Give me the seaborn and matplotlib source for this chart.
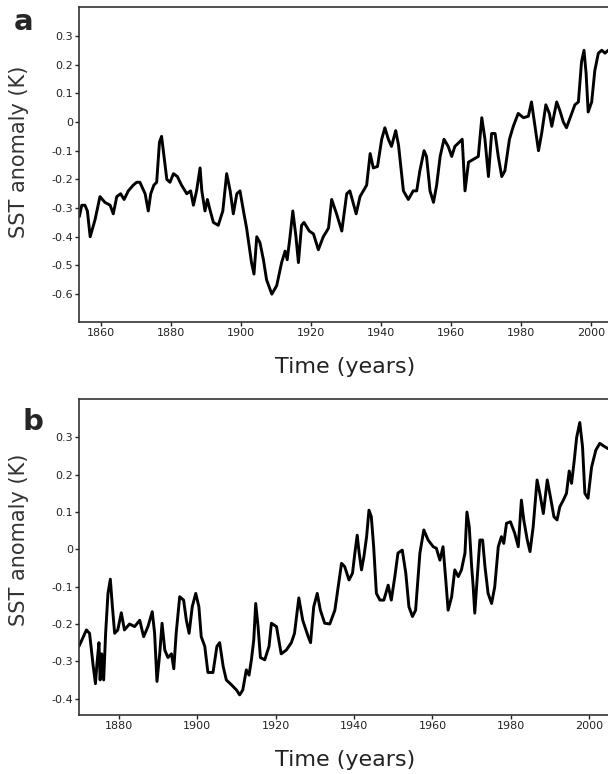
import numpy as np
import pandas as pd
import seaborn as sns
import matplotlib
matplotlib.use("Agg")
import matplotlib.pyplot as plt

# panel a: SST anomaly (K)
years_a = [1853.8, 1854.5, 1855.4, 1856.1, 1856.9, 1858.3, 1859.7, 1861.1, 1862.6, 1863.5,
           1864.5, 1865.6, 1866.6, 1867.8, 1869.2, 1870.2, 1871.1, 1872.6, 1873.5, 1874.2,
           1875.1, 1875.9, 1876.7, 1877.3, 1878.0, 1878.8, 1879.7, 1880.7, 1881.8, 1883.0,
           1884.5, 1885.6, 1886.4, 1887.3, 1888.3, 1888.8, 1889.7, 1890.4, 1891.0, 1892.1,
           1893.5, 1894.8, 1895.9, 1896.9, 1897.8, 1898.8, 1899.7, 1900.7, 1901.6, 1903.0,
           1903.7, 1904.5, 1905.4, 1906.4, 1907.3, 1908.8, 1910.2, 1911.6, 1912.6, 1913.2,
           1914.0, 1914.8, 1915.7, 1916.4, 1917.3, 1918.0, 1919.5, 1920.7, 1922.1, 1923.5,
           1925.0, 1925.9, 1927.3, 1928.8, 1930.2, 1931.1, 1932.9, 1934.0, 1935.9, 1936.9,
           1937.8, 1939.0, 1940.2, 1941.1, 1942.1, 1943.0, 1944.2, 1945.0, 1946.4, 1947.8,
           1949.2, 1950.2, 1951.1, 1952.3, 1953.0, 1954.0, 1955.0, 1955.9, 1956.9, 1958.0,
           1959.2, 1960.2, 1961.1, 1962.4, 1963.2, 1964.0, 1965.0, 1966.4, 1967.8, 1968.8,
           1969.7, 1970.7, 1971.6, 1972.6, 1973.5, 1974.5, 1975.4, 1976.7, 1977.8, 1979.2,
           1980.7, 1982.1, 1983.0, 1984.0, 1985.0, 1985.9, 1987.1, 1988.1, 1988.8, 1990.2,
           1991.1, 1992.1, 1993.0, 1994.5, 1995.4, 1996.4, 1997.3, 1998.0, 1998.6, 1999.2,
           2000.2, 2001.1, 2002.1, 2003.1, 2004.0, 2004.9]
sst_a = [-0.33, -0.29, -0.29, -0.31, -0.40, -0.34, -0.26, -0.28, -0.29, -0.32,
         -0.26, -0.25, -0.27, -0.24, -0.22, -0.21, -0.21, -0.25, -0.31, -0.25,
         -0.22, -0.21, -0.07, -0.05, -0.12, -0.20, -0.21, -0.18, -0.19, -0.22,
         -0.25, -0.24, -0.29, -0.24, -0.16, -0.24, -0.31, -0.27, -0.30, -0.35,
         -0.36, -0.31, -0.18, -0.24, -0.32, -0.25, -0.24, -0.31, -0.37, -0.49,
         -0.53, -0.40, -0.42, -0.48, -0.55, -0.60, -0.57, -0.49, -0.45, -0.48,
         -0.40, -0.31, -0.40, -0.49, -0.36, -0.35, -0.38, -0.39, -0.445, -0.40,
         -0.37, -0.27, -0.32, -0.38, -0.25, -0.24, -0.32, -0.26, -0.22, -0.11,
         -0.16, -0.155, -0.06, -0.02, -0.06, -0.085, -0.03, -0.08, -0.24, -0.27,
         -0.24, -0.24, -0.17, -0.10, -0.12, -0.24, -0.28, -0.22, -0.12, -0.06,
         -0.085, -0.12, -0.085, -0.07, -0.06, -0.24, -0.14, -0.13, -0.12, 0.015,
         -0.06, -0.19, -0.04, -0.04, -0.12, -0.19, -0.17, -0.06, -0.015, 0.03,
         0.015, 0.02, 0.07, -0.015, -0.10, -0.04, 0.06, 0.03, -0.015, 0.07,
         0.04, 0.00, -0.02, 0.03, 0.06, 0.07, 0.21, 0.25, 0.17, 0.035,
         0.07, 0.18, 0.24, 0.25, 0.24, 0.25]

# panel b
years_b = [1869.8, 1871.7, 1872.5, 1873.4, 1874.0, 1874.4, 1874.9, 1875.2, 1875.6, 1876.1,
           1876.6, 1877.2, 1877.8, 1878.3, 1878.9, 1879.7, 1880.6, 1881.4, 1882.7, 1884.0,
           1885.3, 1886.3, 1887.4, 1888.5, 1889.1, 1889.7, 1890.4, 1891.0, 1891.7, 1892.5,
           1893.4, 1894.0, 1894.6, 1895.5, 1896.5, 1897.2, 1897.9, 1898.7, 1899.6, 1900.4,
           1901.0, 1901.9, 1902.7, 1904.0, 1905.0, 1905.7, 1906.6, 1907.4, 1908.7, 1910.0,
           1910.8, 1911.6, 1912.5, 1913.2, 1913.8, 1914.4, 1914.9, 1915.5, 1916.1, 1917.2,
           1918.3, 1918.9, 1920.2, 1921.4, 1922.7, 1924.0, 1924.8, 1925.9, 1926.9, 1928.3,
           1928.9, 1929.7, 1930.6, 1931.4, 1932.5, 1933.8, 1935.1, 1936.2, 1936.8, 1937.6,
           1938.7, 1939.6, 1940.2, 1940.8, 1941.3, 1941.9, 1942.5, 1943.2, 1943.8, 1944.4,
           1945.0, 1945.7, 1946.6, 1947.6, 1948.7, 1949.5, 1950.4, 1951.2, 1952.3, 1953.2,
           1954.0, 1954.9, 1955.7, 1956.8, 1957.8, 1958.9, 1960.2, 1961.0, 1961.9, 1962.7,
           1963.4, 1964.0, 1964.9, 1965.7, 1966.6, 1967.4, 1968.3, 1968.8, 1969.4, 1970.0,
           1970.4, 1970.8, 1971.4, 1972.1, 1972.8, 1973.4, 1974.2, 1975.1, 1975.9, 1976.8,
           1977.6, 1978.2, 1978.9, 1979.9, 1981.0, 1981.9, 1982.7, 1983.3, 1984.2, 1984.9,
           1985.7, 1986.7, 1987.4, 1988.3, 1989.3, 1990.1, 1991.0, 1991.8, 1992.5, 1993.4,
           1994.2, 1994.9, 1995.5, 1996.1, 1996.8, 1997.6, 1998.3, 1998.9, 1999.7, 2000.6,
           2001.7, 2002.7, 2004.0, 2004.8]
sst_b = [-0.26, -0.216, -0.225, -0.31, -0.36, -0.305, -0.25, -0.35, -0.28, -0.35,
         -0.225, -0.118, -0.08, -0.15, -0.225, -0.216, -0.17, -0.216, -0.20, -0.207,
         -0.19, -0.234, -0.207, -0.167, -0.225, -0.354, -0.28, -0.198, -0.27, -0.29,
         -0.28, -0.32, -0.225, -0.127, -0.136, -0.19, -0.225, -0.154, -0.118, -0.154,
         -0.234, -0.26, -0.33, -0.33, -0.26, -0.25, -0.314, -0.35, -0.363, -0.377,
         -0.39, -0.377, -0.323, -0.337, -0.296, -0.243, -0.145, -0.207, -0.29, -0.296,
         -0.26, -0.198, -0.207, -0.28, -0.27, -0.25, -0.225, -0.13, -0.19, -0.234,
         -0.25, -0.154, -0.118, -0.163, -0.198, -0.20, -0.163, -0.082, -0.0375, -0.046,
         -0.082, -0.064, -0.01, 0.038, -0.01, -0.055, -0.02, 0.034, 0.105, 0.0875,
         0.007, -0.118, -0.136, -0.136, -0.096, -0.136, -0.073, -0.01, -0.002, -0.064,
         -0.154, -0.18, -0.163, -0.01, 0.052, 0.025, 0.007, 0.003, -0.029, 0.007,
         -0.082, -0.163, -0.127, -0.055, -0.073, -0.055, -0.01, 0.10, 0.06, -0.046,
         -0.10, -0.171, -0.082, 0.025, 0.025, -0.046, -0.118, -0.145, -0.10, 0.007,
         0.034, 0.016, 0.07, 0.074, 0.043, 0.007, 0.132, 0.079, 0.025, -0.006,
         0.06, 0.186, 0.15, 0.096, 0.186, 0.141, 0.0875, 0.079, 0.114, 0.132,
         0.15, 0.21, 0.177, 0.23, 0.30, 0.34, 0.275, 0.15, 0.137, 0.22,
         0.266, 0.284, 0.275, 0.27]

xticks_a = [1860, 1880, 1900, 1920, 1940, 1960, 1980, 2000]
xticks_b = [1880, 1900, 1920, 1940, 1960, 1980, 2000]
yticks_a = [-0.6, -0.5, -0.4, -0.3, -0.2, -0.1, 0.0, 0.1, 0.2, 0.3]
yticks_b = [-0.4, -0.3, -0.2, -0.1, 0.0, 0.1, 0.2, 0.3]

sns.set_style("ticks")
plt.rcParams['font.family'] = ['DejaVu Sans']


def tick_text(v):
    return "0" if abs(v) < 1e-9 else f"{v:.1f}"


def sst_panel(ax, years, sst, xticks, yticks, xlim, ylim, letter, letter_pos, ylab_y):
    df = pd.DataFrame({'year': years, 'sst': sst})
    sns.lineplot(data=df, x='year', y='sst', ax=ax, color='black', linewidth=2.1,
                 estimator=None, sort=False)
    ax.set_xticks(xticks)
    ax.set_xticklabels([str(x) for x in xticks])
    ax.set_yticks(yticks)
    ax.set_yticklabels([tick_text(v) for v in yticks])
    # limits after the ticks, set_ticks can widen the view
    ax.set_xlim(*xlim)
    ax.set_ylim(*ylim)
    ax.tick_params(axis='both', direction='out', length=2.8, width=1.0, pad=1.5,
                   labelsize=8, colors='#222222')
    for side in ['left', 'bottom', 'top']:
        ax.spines[side].set_visible(True)
        ax.spines[side].set_linewidth(1.2)
        ax.spines[side].set_color('#333333')
    ax.spines['right'].set_visible(False)
    ax.set_xlabel('Time (years)', fontsize=16, color='#222222')
    ax.set_ylabel('SST anomaly (K)', fontsize=15, color='#333333')
    ax.xaxis.set_label_coords(0.503, -0.111)
    ax.yaxis.set_label_coords(-0.0945, ylab_y)
    ax.text(letter_pos[0], letter_pos[1], letter, transform=ax.transAxes, fontsize=21,
            fontweight='bold', ha='center', va='baseline')


fig = plt.figure(figsize=(6.08, 7.74), dpi=100)
ax_a = fig.add_axes([0.1299, 0.5840, 0.8701, 0.4070])
ax_b = fig.add_axes([0.1299, 0.0762, 0.8701, 0.4083])

sst_panel(ax_a, years_a, sst_a, xticks_a, yticks_a, (1853.7, 2004.86), (-0.697, 0.401),
          'a', (-0.104, 0.927), 0.54)
sst_panel(ax_b, years_b, sst_b, xticks_b, yticks_b, (1869.8, 2004.8), (-0.444, 0.403),
          'b', (-0.087, 0.902), 0.554)

fig.savefig('out.png', dpi=100)
